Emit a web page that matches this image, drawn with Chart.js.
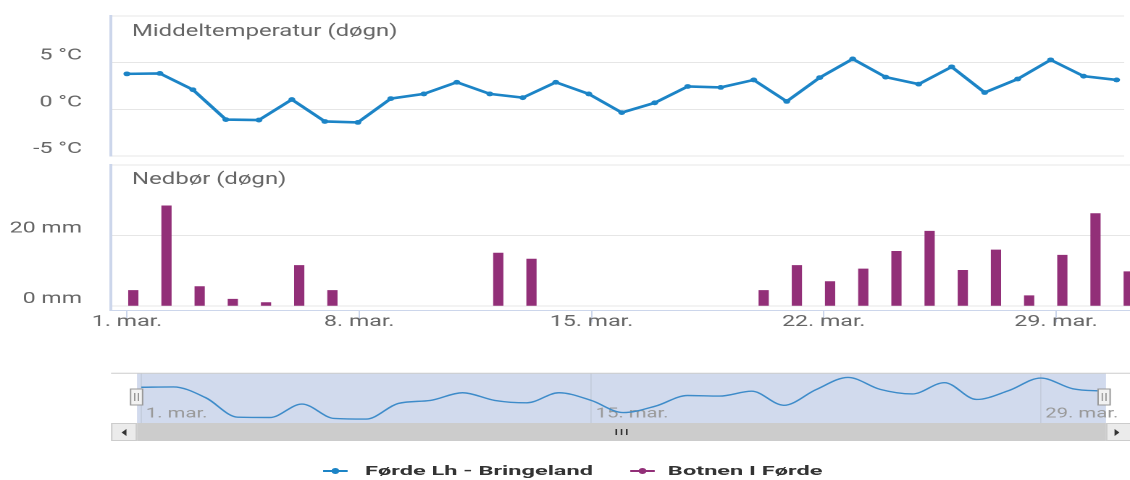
<!DOCTYPE html>
<html>
<head>
<meta charset="utf-8">
<script src="https://cdn.jsdelivr.net/npm/chart.js@4/dist/chart.umd.min.js"></script>
<style>
  html, body { margin: 0; padding: 0; background: #fff; overflow: hidden; }
  #wrap { position: absolute; left: 0; top: 0; width: 780px; height: 480px;
          transform: scaleX(1.448718); transform-origin: 0 0; font-family: Roboto, sans-serif; }
  canvas { position: absolute; left: 0; }
  .sym { position: absolute; height: 2px; }
  .dot { position: absolute; width: 5px; height: 5.5px; border-radius: 50%; }
  .lab { position: absolute; font: bold 12.5px Roboto, sans-serif; color: #333; line-height: 12.5px;
         white-space: nowrap; transform: scaleX(1.3); transform-origin: 0 50%; }
</style>
</head>
<body>
<div id="wrap">
  <canvas id="temp" width="780" height="160" style="top:0;width:780px;height:160px"></canvas>
  <canvas id="rain" width="780" height="181" style="top:160px;width:780px;height:181px"></canvas>
  <canvas id="nav" width="780" height="85" style="top:360px;width:780px;height:85px"></canvas>

  <div class="sym" id="sym1" style="left:222.96px;top:469.8px;width:17.26px"></div>
  <div class="dot" id="dot1" style="left:229.1px;top:468.05px"></div>
  <div class="lab" id="lab1" style="left:251.95px;top:464.7px"></div>
  <div class="sym" id="sym2" style="left:434.87px;top:469.8px;width:17.26px"></div>
  <div class="dot" id="dot2" style="left:441px;top:468.05px"></div>
  <div class="lab" id="lab2" style="left:461.1px;top:464.7px"></div>
</div>

<script>
// Data (March, one value per day)
const days = [1, 2, 3, 4, 5, 6, 7, 8, 9, 10, 11, 12, 13, 14, 15, 16, 17, 18, 19, 20,
              21, 22, 23, 24, 25, 26, 27, 28, 29, 30, 31];
const temps = [3.8, 3.85, 2.1, -1.1, -1.15, 1.05, -1.3, -1.4, 1.15, 1.65, 2.9, 1.65, 1.25, 2.9, 1.65,
               -0.35, 0.7, 2.45, 2.35, 3.15, 0.85, 3.4, 5.4, 3.45, 2.7, 4.55, 1.8, 3.25, 5.3, 3.55, 3.15];
const rain = [4.4, 28.4, 5.5, 1.9, 0.95, 11.5, 4.4, 0, 0, 0, 0, 15.0, 13.3, 0, 0, 0, 0, 0, 0,
              4.4, 11.5, 6.9, 10.5, 15.5, 21.2, 10.1, 15.9, 2.9, 14.4, 26.2, 9.7];
const tickDays = [1, 8, 15, 22, 29];
const tickLabels = ['1. mar.', '8. mar.', '15. mar.', '22. mar.', '29. mar.'];
const navTickDays = [1, 15, 29];
const tempTicks = [-5, 0, 5, 10];
const rainTicks = [0, 20, 40];
const seriesNames = ['Førde Lh - Bringeland', 'Botnen I Førde'];
const paneTitles = ['Middeltemperatur (døgn)', 'Nedbør (døgn)'];

const blue = '#1c84c6';
const purple = '#922f78';
const axisLine = '#ccd6eb';
const gridColor = '#e6e6e6';

const S = 1130 / 780;        // horizontal stretch of the page
const yAxisW = 111 / S;      // plot left edge
const barShift = 0.19;       // columns sit a bit right of the day

Chart.defaults.font.family = 'Roboto';
Chart.defaults.color = '#666';

document.getElementById('lab1').textContent = seriesNames[0];
document.getElementById('lab2').textContent = seriesNames[1];
['sym1', 'dot1'].forEach(id => document.getElementById(id).style.background = blue);
['sym2', 'dot2'].forEach(id => document.getElementById(id).style.background = purple);

// pane title drawn inside the plot
const paneTitle = {
  id: 'paneTitle',
  afterDraw(chart, args, opts) {
    const ctx = chart.ctx;
    ctx.save();
    ctx.font = '16.5px Roboto';
    ctx.fillStyle = '#666';
    ctx.textBaseline = 'alphabetic';
    ctx.fillText(opts.text, chart.chartArea.left + 14.5, opts.y);
    ctx.restore();
  }
};

const xRange = { min: 0.518, max: 31.23 };

// y axes: fixed width, no extra room for edge labels
function fixedWidth(scale) {
  scale.width = yAxisW;
  scale.paddingTop = 0;
  scale.paddingBottom = 0;
}

// Temperature pane
new Chart(document.getElementById('temp'), {
  type: 'line',
  data: {
    datasets: [{
      data: days.map((d, i) => ({ x: d, y: temps[i] })),
      borderColor: blue,
      borderWidth: 2.6,
      pointRadius: 2.4,
      pointBackgroundColor: blue,
      pointBorderWidth: 0,
      tension: 0
    }]
  },
  options: {
    responsive: false,
    devicePixelRatio: 2,
    animation: false,
    events: [],
    layout: { padding: { top: 16, bottom: 3, left: 0, right: 0 } },
    scales: {
      x: { type: 'linear', display: false, min: xRange.min, max: xRange.max },
      y: {
        min: -5, max: 10,
        afterBuildTicks: s => { s.ticks = tempTicks.map(v => ({ value: v })); },
        afterFit: fixedWidth,
        grid: { color: gridColor, drawTicks: false },
        border: { display: true, color: axisLine, width: 2 },
        ticks: {
          padding: 20,
          labelOffset: -7,
          font: { size: 16 },
          color: '#666',
          callback: v => v === 10 ? '' : v + ' °C'
        }
      }
    },
    plugins: {
      legend: { display: false },
      tooltip: { enabled: false },
      paneTitle: { text: paneTitles[0], y: 36 }
    }
  },
  plugins: [paneTitle]
});

// Precipitation pane (dry days have no column)
new Chart(document.getElementById('rain'), {
  type: 'bar',
  data: {
    datasets: [{
      data: days.map((d, i) => ({ x: d + barShift, y: rain[i] })).filter(p => p.y > 0),
      backgroundColor: purple,
      borderWidth: 0,
      barThickness: 6.4
    }]
  },
  options: {
    responsive: false,
    devicePixelRatio: 2,
    animation: false,
    events: [],
    layout: { padding: { top: 5, bottom: 0, left: 0, right: 0 } },
    scales: {
      x: {
        type: 'linear', min: xRange.min, max: xRange.max,
        offset: false,
        afterBuildTicks: s => { s.ticks = tickDays.map(v => ({ value: v })); },
        afterFit: s => { s.height = 30.5; s.paddingLeft = 0; s.paddingRight = 0; },
        grid: { offset: false, drawOnChartArea: false, drawTicks: true, tickLength: 12, color: axisLine },
        border: { display: true, color: axisLine, width: 1 },
        ticks: {
          padding: -10,
          maxRotation: 0,
          autoSkip: false,
          font: { size: 16 },
          color: '#666',
          callback: (v, i) => tickLabels[i]
        }
      },
      y: {
        min: -1.3, max: 40,
        afterBuildTicks: s => { s.ticks = rainTicks.map(v => ({ value: v })); },
        afterFit: fixedWidth,
        grid: { color: gridColor, drawTicks: false },
        border: { display: true, color: axisLine, width: 2 },
        ticks: {
          padding: 20,
          labelOffset: -7,
          font: { size: 16 },
          color: '#666',
          callback: v => v === 40 ? '' : v + ' mm'
        }
      }
    },
    plugins: {
      legend: { display: false },
      tooltip: { enabled: false },
      paneTitle: { text: paneTitles[1], y: 24 }
    }
  },
  plugins: [paneTitle]
});

// Navigator + scrollbar
const navDecor = {
  id: 'navDecor',
  beforeDatasetsDraw(chart) {
    const { ctx, chartArea: a, scales: { x } } = chart;
    ctx.save();
    ctx.fillStyle = 'rgba(102,133,194,0.3)';
    ctx.fillRect(a.left, a.top, a.right - a.left, a.bottom - a.top);
    ctx.strokeStyle = '#c3cbdb';
    ctx.lineWidth = 0.8;
    ctx.font = '14px Roboto';
    ctx.fillStyle = '#999';
    ctx.textBaseline = 'middle';
    navTickDays.forEach(d => {
      const px = x.getPixelForValue(d);
      ctx.beginPath();
      ctx.moveTo(px, a.top);
      ctx.lineTo(px, a.bottom);
      ctx.stroke();
      ctx.fillText(tickLabels[tickDays.indexOf(d)], px + 3.1, 54);
    });
    ctx.restore();
  },
  afterDraw(chart) {
    const { ctx, chartArea: a } = chart;
    const W = chart.width;
    ctx.save();
    // outline
    ctx.strokeStyle = '#cccccc';
    ctx.lineWidth = 1;
    ctx.beginPath();
    ctx.moveTo(yAxisW, 13.3);
    ctx.lineTo(W, 13.3);
    ctx.stroke();

    // scrollbar
    const sy = 63, sh = 18;
    ctx.fillStyle = '#f2f2f2';
    ctx.fillRect(yAxisW, sy, W - yAxisW, sh);
    ctx.fillStyle = '#cccccc';
    ctx.fillRect(a.left, sy, a.right - a.left, sh);
    ctx.fillStyle = '#ebebeb';
    ctx.strokeStyle = '#cccccc';
    ctx.fillRect(yAxisW, sy, a.left - yAxisW, sh);
    ctx.strokeRect(yAxisW + 0.5, sy + 0.5, a.left - yAxisW - 1, sh - 1);
    ctx.fillRect(a.right, sy, W - a.right + 2, sh);
    ctx.strokeRect(a.right + 0.5, sy + 0.5, W - a.right + 2, sh - 1);

    ctx.fillStyle = '#333';
    const lx = (yAxisW + a.left) / 2;
    ctx.beginPath();
    ctx.moveTo(lx - 1.7, sy + 9.5);
    ctx.lineTo(lx + 1.7, sy + 6);
    ctx.lineTo(lx + 1.7, sy + 13);
    ctx.closePath();
    ctx.fill();
    const rx = 771;
    ctx.beginPath();
    ctx.moveTo(rx + 1.7, sy + 9.5);
    ctx.lineTo(rx - 1.7, sy + 6);
    ctx.lineTo(rx - 1.7, sy + 13);
    ctx.closePath();
    ctx.fill();

    const gx = (a.left + a.right) / 2;
    [-3.6, 0, 3.6].forEach(o => ctx.fillRect(gx + o - 0.6, sy + 6, 1.2, 6));

    // handles
    [a.left - 0.3, a.right - 1.3].forEach(hx => {
      ctx.fillStyle = '#f2f2f2';
      ctx.fillRect(hx - 4.15, 29, 8.3, 16);
      ctx.strokeStyle = '#999';
      ctx.lineWidth = 1;
      ctx.strokeRect(hx - 4.15, 29, 8.3, 16);
      ctx.strokeStyle = '#888';
      ctx.lineWidth = 0.8;
      [-1.3, 1.3].forEach(o => {
        ctx.beginPath();
        ctx.moveTo(hx + o, 33);
        ctx.lineTo(hx + o, 41);
        ctx.stroke();
      });
    });
    ctx.restore();
  }
};

new Chart(document.getElementById('nav'), {
  type: 'line',
  data: {
    datasets: [{
      data: days.map((d, i) => ({ x: d, y: temps[i] })),
      borderColor: '#3d8bc9',
      borderWidth: 1.4,
      pointRadius: 0,
      cubicInterpolationMode: 'monotone'
    }]
  },
  options: {
    responsive: false,
    devicePixelRatio: 2,
    animation: false,
    events: [],
    layout: { padding: { top: 13, bottom: 22, left: 137 / S, right: 780 - 1106 / S } },
    scales: {
      x: { type: 'linear', display: false, min: 0.866, max: 31.03 },
      y: { display: false, min: -2.05, max: 6.13 }
    },
    plugins: { legend: { display: false }, tooltip: { enabled: false } }
  },
  plugins: [navDecor]
});
</script>
</body>
</html>
